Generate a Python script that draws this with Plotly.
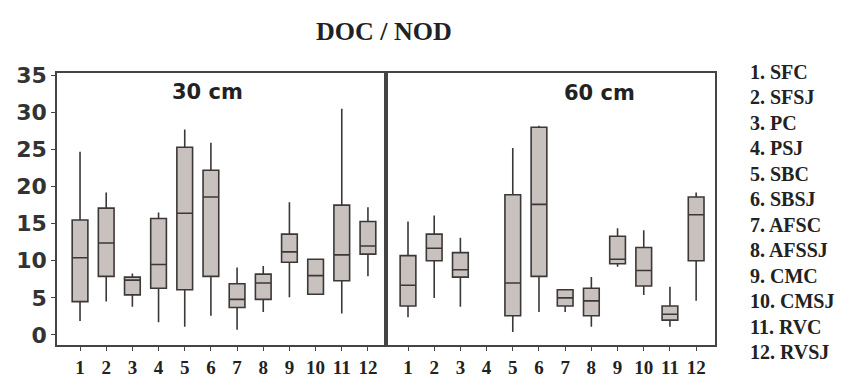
import plotly.graph_objects as go

# ---- data ----
cats = list(range(1, 13))
tick_labels = [str(c) for c in cats]
legend_names = ["SFC", "SFSJ", "PC", "PSJ", "SBC", "SBSJ", "AFSC", "AFSSJ",
                "CMC", "CMSJ", "RVC", "RVSJ"]

# 30 cm depth
x30 = cats
low30 = [1.9, 4.5, 3.8, 1.7, 1.1, 2.6, 0.7, 3.1, 5.1, 5.5, 2.9, 7.9]
q1_30 = [4.5, 7.9, 5.4, 6.3, 6.1, 7.9, 3.7, 4.8, 9.8, 5.5, 7.3, 10.9]
med30 = [10.4, 12.4, 7.4, 9.5, 16.4, 18.6, 4.8, 7.0, 11.2, 8.0, 10.8, 12.0]
q3_30 = [15.5, 17.1, 7.8, 15.7, 25.3, 22.2, 6.9, 8.2, 13.6, 10.2, 17.5, 15.3]
up30 = [24.7, 19.2, 8.3, 16.5, 27.7, 25.9, 9.1, 9.3, 17.9, 10.2, 30.5, 17.2]

# 60 cm depth (no box for category 4)
x60 = [1, 2, 3, 5, 6, 7, 8, 9, 10, 11, 12]
low60 = [2.4, 5.0, 3.8, 0.4, 3.1, 3.1, 1.1, 9.2, 5.4, 1.1, 4.6]
q1_60 = [3.9, 10.0, 7.8, 2.6, 7.9, 3.9, 2.6, 9.6, 6.6, 2.0, 10.0]
med60 = [6.7, 11.7, 8.8, 7.0, 17.6, 5.0, 4.6, 10.2, 8.7, 2.8, 16.2]
q3_60 = [10.7, 13.6, 11.1, 18.9, 28.0, 6.1, 6.3, 13.3, 11.8, 3.9, 18.6]
up60 = [15.3, 16.1, 13.1, 25.2, 28.2, 6.2, 7.8, 14.4, 14.1, 6.5, 19.2]

y_ticks = [0, 5, 10, 15, 20, 25, 30, 35]

# ---- style ----
FILL = "#c9c1bd"
LINE = "#3b3838"
AX = "#444444"
serif = "Liberation Serif, Times New Roman, serif"
sans = "DejaVu Sans, Arial, sans-serif"

fig = go.Figure()
box_common = dict(fillcolor=FILL, line=dict(color=LINE, width=1.6),
                  whiskerwidth=0, boxpoints=False, width=0.6, showlegend=False,
                  hoverinfo="skip")
fig.add_trace(go.Box(x=x30, q1=q1_30, median=med30, q3=q3_30,
                     lowerfence=low30, upperfence=up30,
                     xaxis="x", yaxis="y", **box_common))
fig.add_trace(go.Box(x=x60, q1=q1_60, median=med60, q3=q3_60,
                     lowerfence=low60, upperfence=up60,
                     xaxis="x2", yaxis="y2", **box_common))

W, H = 854, 377
xl0, xmid, xr1 = 57 / W, 386 / W, 715 / W
yb, yt = 1 - 345 / H, 1 - 73 / H
yrange = [-1.35, 35.31]

xcommon = dict(tickmode="array", tickvals=cats, ticktext=tick_labels,
               showgrid=False, zeroline=False, showline=True, mirror=True,
               linecolor=AX, linewidth=1.6, ticks="outside", ticklen=4,
               tickcolor=AX, tickwidth=1, automargin=False,
               tickfont=dict(family=serif, size=19, color="#222222",
                             weight="bold"))

fig.update_layout(
    width=W, height=H,
    margin=dict(l=0, r=0, t=0, b=0, autoexpand=False),
    paper_bgcolor="white", plot_bgcolor="white",
    xaxis=dict(domain=[xl0, xmid], range=[0.12, 12.69], anchor="y", **xcommon),
    xaxis2=dict(domain=[xmid, xr1], range=[0.16, 12.72], anchor="y2", **xcommon),
    yaxis=dict(domain=[yb, yt], range=yrange, anchor="x", tickmode="array",
               tickvals=y_ticks, showgrid=False, zeroline=False,
               showline=True, mirror=True, linecolor=AX, linewidth=1.6,
               ticks="outside", ticklen=4, tickcolor=AX, automargin=False,
               tickfont=dict(family=sans, size=22, color="#333333",
                             weight="bold")),
    yaxis2=dict(domain=[yb, yt], range=yrange, anchor="x2", matches="y",
                showticklabels=False, ticks="", showgrid=False,
                zeroline=False, showline=True, mirror=True, linecolor=AX,
                linewidth=1.6, automargin=False),
)

annotations = [
    dict(text="DOC / NOD", x=384 / W, y=1 - 31 / H, xref="paper", yref="paper",
         xanchor="center", yanchor="middle", showarrow=False,
         font=dict(family=serif, size=26, color="#222222", weight="bold")),
    dict(text="30 cm", x=207 / W, y=1 - 92 / H, xref="paper", yref="paper",
         xanchor="center", yanchor="middle", showarrow=False,
         font=dict(family=sans, size=21, color="#222222", weight="bold")),
    dict(text="60 cm", x=599 / W, y=1 - 93 / H, xref="paper", yref="paper",
         xanchor="center", yanchor="middle", showarrow=False,
         font=dict(family=sans, size=21, color="#222222", weight="bold")),
]
for i, name in enumerate(legend_names):
    ypix = 72 + i * (352 - 72) / 11
    annotations.append(dict(text=f"{i + 1}. {name}", x=748 / W, y=1 - ypix / H,
                            xref="paper", yref="paper", xanchor="left",
                            yanchor="middle", showarrow=False,
                            font=dict(family=serif, size=20, color="#222222",
                                      weight="bold")))
fig.update_layout(annotations=annotations)

fig.write_html("out.html")
